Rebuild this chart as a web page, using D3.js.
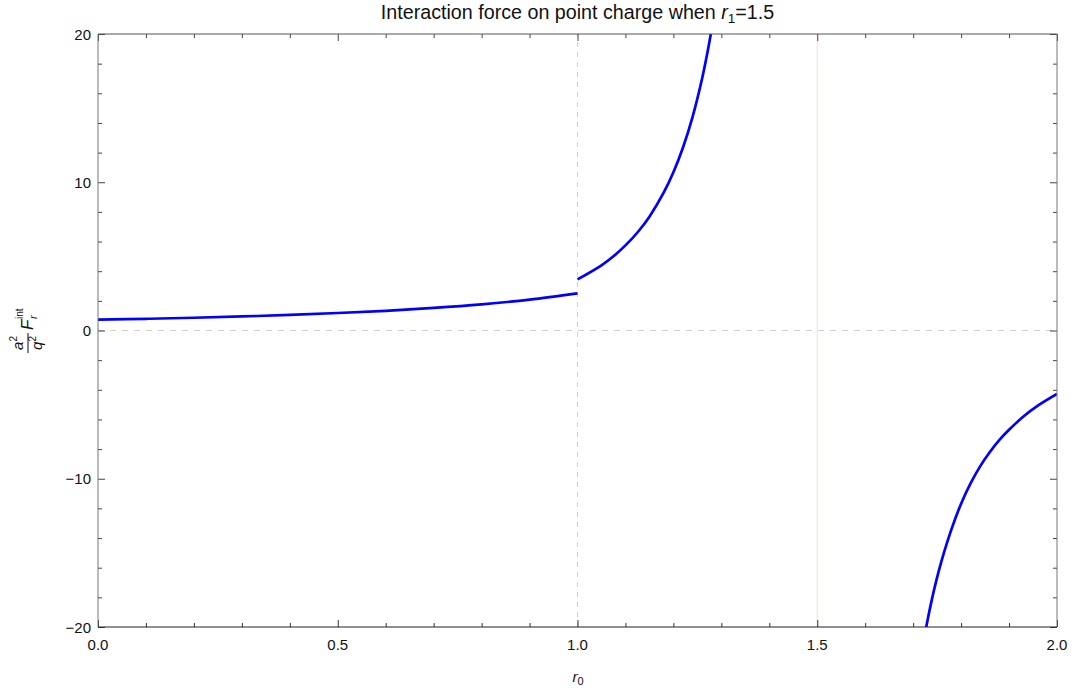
<!DOCTYPE html>
<html>
<head>
<meta charset="utf-8">
<script src="https://cdn.jsdelivr.net/npm/d3@7"></script>
<style>
  html, body { margin: 0; padding: 0; background: #fff; }
  svg { display: block; font-family: "Liberation Sans", Arial, sans-serif; }
</style>
</head>
<body>
<svg id="chart" width="1072" height="691"></svg>
<script>
// ---- data ----
const branchInside = [ // r0 < 1
  [0.00, 0.74], [0.10, 0.79], [0.20, 0.86], [0.30, 0.95], [0.40, 1.05],
  [0.50, 1.18], [0.60, 1.33], [0.70, 1.52], [0.80, 1.76], [0.90, 2.08], [1.00, 2.50]
];
const branchMiddle = [ // 1 < r0 < r1
  [1.000, 3.45], [1.050, 4.40], [1.075, 5.01], [1.100, 5.74], [1.125, 6.61],
  [1.150, 7.68], [1.180, 9.31], [1.200, 10.67], [1.220, 12.34], [1.240, 14.41],
  [1.260, 17.02], [1.270, 18.59], [1.280, 20.37], [1.290, 22.40]
];
const branchOuter = [ // r0 > r1
  [1.71, -23.3], [1.72, -21.3], [1.73, -19.55], [1.74, -18.0], [1.75, -16.65],
  [1.76, -15.45], [1.78, -13.4], [1.80, -11.68], [1.82, -10.3], [1.84, -9.15],
  [1.86, -8.2], [1.88, -7.38], [1.90, -6.7], [1.93, -5.8], [1.96, -5.07], [2.00, -4.28]
];
const xMajorTicks = [0, 0.5, 1.0, 1.5, 2.0];
const xMinorTicks = [0.1,0.2,0.3,0.4,0.6,0.7,0.8,0.9,1.1,1.2,1.3,1.4,1.6,1.7,1.8,1.9];
const yMajorTicks = [-20, -10, 0, 10, 20];
const yMinorTicks = [-18,-16,-14,-12,-8,-6,-4,-2,2,4,6,8,12,14,16,18];
const r1 = 1.5;
const titleText = "Interaction force on point charge when ";

// ---- layout ----
const svg = d3.select("#chart");
const L = 98, R = 1057, T = 34, B = 627;
const x = d3.scaleLinear().domain([0, 2]).range([L, R]);
const y = d3.scaleLinear().domain([-20, 20]).range([B, T]);

// grid / reference lines
svg.append("line")
  .attr("x1", x(0)).attr("x2", x(2)).attr("y1", y(0)).attr("y2", y(0))
  .attr("stroke", "#cfcfcf").attr("stroke-width", 1).attr("stroke-dasharray", "6,6");
svg.append("line")
  .attr("x1", x(1)).attr("x2", x(1)).attr("y1", y(-20)).attr("y2", y(20))
  .attr("stroke", "#cfcfcf").attr("stroke-width", 1).attr("stroke-dasharray", "5,5");
svg.append("line")
  .attr("x1", x(r1)).attr("x2", x(r1)).attr("y1", y(-20)).attr("y2", y(20))
  .attr("stroke", "#fde3cf").attr("stroke-width", 1.2);

// clip
svg.append("defs").append("clipPath").attr("id", "clip")
  .append("rect").attr("x", L).attr("y", T).attr("width", R - L).attr("height", B - T);

const line = d3.line().x(d => x(d[0])).y(d => y(d[1])).curve(d3.curveCatmullRom.alpha(0.5));
const g = svg.append("g").attr("clip-path", "url(#clip)");
[branchInside, branchMiddle, branchOuter].forEach(b => {
  g.append("path").datum(b).attr("d", line)
    .attr("fill", "none").attr("stroke", "#0000ff").attr("stroke-width", 2.7)
    .attr("stroke-linecap", "butt");
});

// axes (frame, ticks inward)
const majorLen = 7, minorLen = 4;
function axisAt(axisGen, transform) {
  return svg.append("g").attr("transform", transform).call(axisGen);
}
function styleAxis(sel, color) {
  sel.select(".domain").remove();
  sel.selectAll(".tick line").attr("stroke", color);
  sel.selectAll(".tick text").remove();
}
const bMaj = axisAt(d3.axisTop(x).tickValues(xMajorTicks).tickSize(majorLen), `translate(0,${B})`);
styleAxis(bMaj, "#333");
const bMin = axisAt(d3.axisTop(x).tickValues(xMinorTicks).tickSize(minorLen), `translate(0,${B})`);
styleAxis(bMin, "#333");
const tMaj = axisAt(d3.axisBottom(x).tickValues(xMajorTicks).tickSize(majorLen), `translate(0,${T})`);
styleAxis(tMaj, "#444");
const tMin = axisAt(d3.axisBottom(x).tickValues(xMinorTicks).tickSize(minorLen), `translate(0,${T})`);
styleAxis(tMin, "#444");
const lMaj = axisAt(d3.axisRight(y).tickValues(yMajorTicks).tickSize(majorLen), `translate(${L},0)`);
styleAxis(lMaj, "#444");
const lMin = axisAt(d3.axisRight(y).tickValues(yMinorTicks).tickSize(minorLen), `translate(${L},0)`);
styleAxis(lMin, "#444");
const rMaj = axisAt(d3.axisLeft(y).tickValues(yMajorTicks).tickSize(majorLen), `translate(${R},0)`);
styleAxis(rMaj, "#444");
const rMin = axisAt(d3.axisLeft(y).tickValues(yMinorTicks).tickSize(minorLen), `translate(${R},0)`);
styleAxis(rMin, "#444");

// frame lines
svg.append("line").attr("x1", L).attr("x2", R).attr("y1", T).attr("y2", T).attr("stroke", "#555");
svg.append("line").attr("x1", L).attr("x2", L).attr("y1", T).attr("y2", B).attr("stroke", "#777");
svg.append("line").attr("x1", R).attr("x2", R).attr("y1", T).attr("y2", B).attr("stroke", "#777");
svg.append("line").attr("x1", L).attr("x2", R).attr("y1", B).attr("y2", B).attr("stroke", "#222");

// tick labels
const fmtX = d3.format(".1f");
svg.append("g").selectAll("text").data(xMajorTicks).join("text")
  .attr("x", d => x(d)).attr("y", 650)
  .attr("text-anchor", "middle").attr("font-size", 15).attr("fill", "#111")
  .text(d => fmtX(d));
svg.append("g").selectAll("text").data(yMajorTicks).join("text")
  .attr("x", L - 7).attr("y", d => y(d) + 5.5)
  .attr("text-anchor", "end").attr("font-size", 15).attr("fill", "#111")
  .text(d => d < 0 ? "\u2212" + Math.abs(d) : String(d));

// title
const title = svg.append("text")
  .attr("x", (L + R) / 2).attr("y", 19)
  .attr("text-anchor", "middle").attr("font-size", 19.7).attr("fill", "#111");
title.append("tspan").text(titleText);
title.append("tspan").attr("font-style", "italic").text("r");
title.append("tspan").attr("font-size", 13.5).attr("dy", 4).text("1");
title.append("tspan").attr("dy", -4).text("=1.5");

// x axis label
const xl = svg.append("text").attr("x", x(1) - 5).attr("y", 682)
  .attr("font-size", 15).attr("fill", "#111");
xl.append("tspan").attr("font-style", "italic").text("r");
xl.append("tspan").attr("font-size", 11).attr("dy", 3).text("0");

// y axis label (rotated fraction a^2/q^2 F_r^int)
const yl = svg.append("g").attr("transform", "translate(28,330) rotate(-90)")
  .attr("fill", "#111");
const num = yl.append("text").attr("x", -13).attr("y", -5).attr("text-anchor", "middle")
  .attr("font-size", 15);
num.append("tspan").attr("font-style", "italic").text("a");
num.append("tspan").attr("font-size", 10).attr("dy", -6).text("2");
yl.append("line").attr("x1", -23).attr("x2", -3).attr("y1", 0).attr("y2", 0)
  .attr("stroke", "#111").attr("stroke-width", 1);
const den = yl.append("text").attr("x", -13).attr("y", 14).attr("text-anchor", "middle")
  .attr("font-size", 15);
den.append("tspan").attr("font-style", "italic").text("q");
den.append("tspan").attr("font-size", 10).attr("dy", -6).text("2");
yl.append("text").attr("x", 0).attr("y", 5).attr("font-size", 17)
  .attr("font-style", "italic").text("F");
yl.append("text").attr("x", 11).attr("y", -5).attr("font-size", 10).text("int");
yl.append("text").attr("x", 11).attr("y", 9).attr("font-size", 11)
  .attr("font-style", "italic").text("r");
</script>
</body>
</html>
